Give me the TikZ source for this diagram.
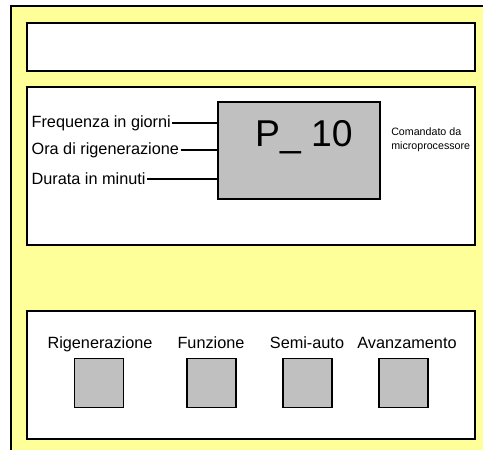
\documentclass[tikz,border=0pt]{standalone}
\usepackage{fontspec}
\setmainfont{Liberation Sans}
\usepackage{tikz}
\usetikzlibrary{shapes,arrows}
\definecolor{pannello}{HTML}{FFFF99}
\definecolor{tasto}{HTML}{C0C0C0}
\tikzstyle{riquadro} = [draw, fill=white, rectangle, line width=1.2pt, inner sep=0pt]
\tikzstyle{pulsante} = [draw, fill=tasto, rectangle, line width=1.2pt, inner sep=0pt,
                        minimum width=36.75pt, minimum height=36.75pt]
\tikzstyle{voce} = [font=\fontsize{12.2}{14}\selectfont, inner sep=1pt]
\tikzstyle{linea} = [line width=1pt]

\begin{document}
\begin{tikzpicture}[x=0.75pt,y=-0.75pt]
            \useasboundingbox (0,0) rectangle (483,450);
            % pannello giallo
            \fill[pannello] (11,6) rectangle (483,450);
            \draw[line width=1.2pt] (11,450) -- (11,6) -- (483,6);
            % riquadri
            \node[riquadro, minimum width=336pt, minimum height=36pt]
                (display) at (251,47) {};
            \node[riquadro, minimum width=336pt, minimum height=118.5pt]
                (programma) at (251,166) {};
            \node[riquadro, minimum width=336pt, minimum height=96pt]
                (tastiera) at (251,375) {};
            % programmatore
            \node[draw, fill=tasto, rectangle, line width=1.2pt, inner sep=0pt,
                minimum width=121.5pt, minimum height=72.75pt]
                (centralina) at (299,150.5) {};
            \node[font=\fontsize{28}{32}\selectfont] (codice) at (304,137) {P\_ 10};
            \node[voce, anchor=west] (frequenza) at (30,123) {Frequenza in giorni};
            \node[voce, anchor=west] (ora) at (30,150) {Ora di rigenerazione};
            \node[voce, anchor=west] (durata) at (30,179) {Durata in minuti};
            \draw[linea] (frequenza.east) -- (frequenza.east -| centralina.west);
            \draw[linea] (ora.east) -- (ora.east -| centralina.west);
            \draw[linea] (durata.east) -- (durata.east -| centralina.west);
            \node[anchor=west, align=left, inner sep=0pt,
                font=\fontsize{8}{10.5}\selectfont]
                (comando) at (391,140) {Comandato da \\ microprocessore};
            % pulsanti
            \node[pulsante] (rigen) at (99,383) {};
            \node[pulsante] (funz) at (211.5,383) {};
            \node[pulsante] (semi) at (307.5,383) {};
            \node[pulsante] (avanz) at (403.5,383) {};
            \node[voce] (lrigen) at (100,344) {Rigenerazione};
            \node[voce] (lfunz) at (211,343) {Funzione};
            \node[voce] (lsemi) at (307,343) {Semi-auto};
            \node[voce] (lavanz) at (407,343) {Avanzamento};
        \end{tikzpicture}
\end{document}
